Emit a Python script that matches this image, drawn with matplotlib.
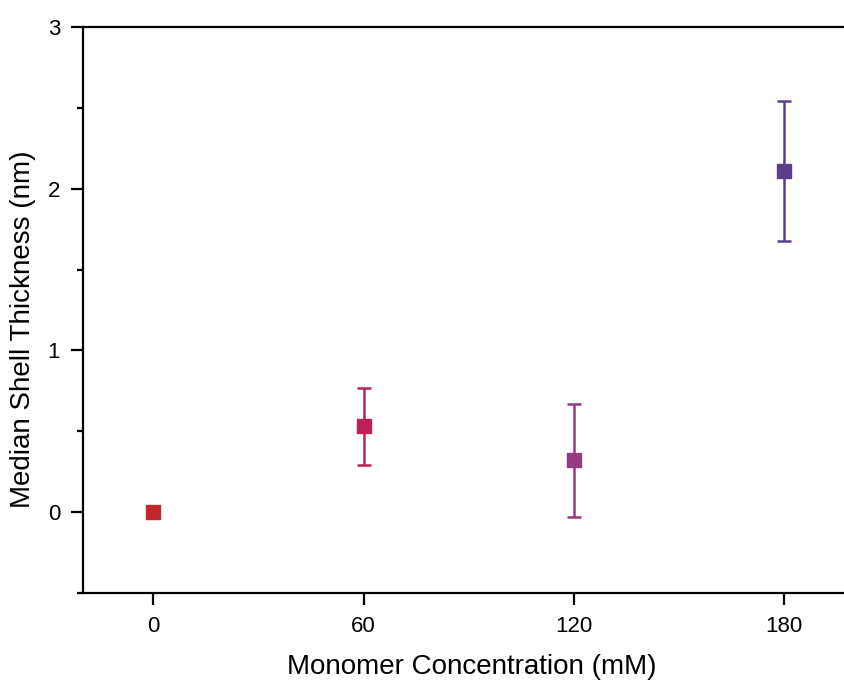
import matplotlib
matplotlib.use('Agg')
import matplotlib.pyplot as plt
from matplotlib.ticker import MultipleLocator

plt.rcParams['font.family'] = ['Liberation Sans', 'DejaVu Sans']

# данные
concentration = [0, 60, 120, 180]
thickness = [0.0, 0.53, 0.32, 2.11]
thickness_err = [0.0, 0.24, 0.35, 0.435]
colors = ['#C1272D', '#BE1E5A', '#963A82', '#5B3F8A']

fig = plt.figure(figsize=(8.45, 6.81), dpi=100)
ax = fig.add_axes([0.0982, 0.1292, 0.9018, 0.8312])

for x, y, e, c in zip(concentration, thickness, thickness_err, colors):
    if e > 0:
        ax.errorbar(x, y, yerr=e, fmt='s', color=c, markersize=10,
                    elinewidth=1.8, capsize=5, capthick=1.8)
    else:
        ax.plot(x, y, 's', color=c, markersize=10)

ax.set_xlim(-20, 197.3)
ax.set_ylim(-0.5, 3)
ax.set_xticks(concentration)
ax.yaxis.set_major_locator(MultipleLocator(1))
ax.yaxis.set_minor_locator(MultipleLocator(0.5))

ax.spines['right'].set_visible(False)
for s in ['left', 'top', 'bottom']:
    ax.spines[s].set_linewidth(1.6)
ax.tick_params(which='major', direction='out', length=8.5, width=1.6, labelsize=16, pad=8)
ax.tick_params(which='minor', direction='out', length=4.5, width=1.6)

ax.set_xlabel('Monomer Concentration (mM)', fontsize=20)
ax.set_ylabel('Median Shell Thickness (nm)', fontsize=20)
ax.xaxis.set_label_coords(0.51, -0.108)
ax.yaxis.set_label_coords(-0.061, 0.466)

fig.savefig('out.png', dpi=100)
